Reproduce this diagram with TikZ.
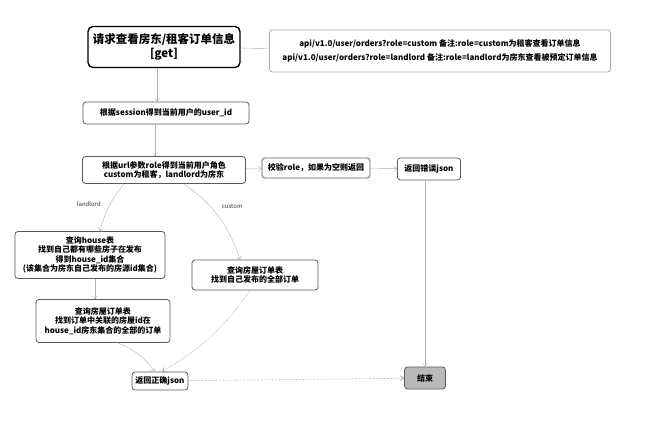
\documentclass[tikz,border=0pt]{standalone}
\usepackage{fontspec}
\setmainfont{Noto Sans CJK SC}
\usetikzlibrary{arrows.meta, positioning}

\begin{document}
\begin{tikzpicture}[
      x=1pt, y=-1pt,
      block/.style={rectangle, draw=gray!70!black, line width=0.8pt, rounded corners=3pt, align=center, inner sep=2pt, font=\bfseries\fontsize{8}{9.5}\selectfont},
      start_block/.style={block, draw=black, line width=1.4pt, rounded corners=5pt, font=\bfseries\fontsize{11.5}{14}\selectfont},
      note_block/.style={block, draw=gray!70, font=\bfseries\fontsize{8}{9}\selectfont},
      end_block/.style={block, fill=gray!55},
      line/.style={draw, gray!60, -{Straight Barb[length=3pt,width=5pt]}, thin},
      dotline/.style={line, gray!70, densely dotted, line width=0.8pt},
      lbl/.style={font=\fontsize{6}{7}\selectfont, text=black!80}
  ]
  \useasboundingbox (0,0) rectangle (649,423);

  \node [start_block, minimum width=152pt, minimum height=41pt] (start) at (164,47) {请求查看房东/租客订单信息\\{[get]}};
  \node [note_block, minimum width=341pt, minimum height=42pt] (api) at (440,51) {api/v1.0/user/orders?role=custom 备注:role=custom为租客查看订单信息\\[5pt]api/v1.0/user/orders?role=landlord 备注:role=landlord为房东查看被预定订单信息};
  \node [block, minimum width=166pt, minimum height=22pt] (session) at (166,113) {根据session得到当前用户的user\_id};
  \node [block, minimum width=163pt, minimum height=27pt] (role) at (164,170) {根据url参数role得到当前用户角色\\custom为租客，landlord为房东};
  \node [block, minimum width=108pt, minimum height=20pt] (check) at (316,168) {校验role，如果为空则返回};
  \node [block, minimum width=63pt, minimum height=22pt] (error) at (429,169) {返回错误json};
  \node [block, minimum width=150pt, minimum height=47pt] (house) at (90,255) {查询house表\\找到自己都有哪些房子在发布\\得到house\_id集合\\(该集合为房东自己发布的房源id集合)};
  \node [block, minimum width=126pt, minimum height=30pt] (corders) at (255,275) {查询房屋订单表\\找到自己发布的全部订单};
  \node [block, minimum width=134pt, minimum height=43pt] (lorders) at (103,321) {查询房屋订单表\\找到订单中关联的房屋id在\\house\_id房东集合的全部的订单};
  \node [block, minimum width=56pt, minimum height=18pt] (ok) at (160,381) {返回正确json};
  \node [end_block, minimum width=41pt, minimum height=22pt] (end) at (425,378) {结束};

  \draw [gray!60, thin] (start) -- (api);
  \path [line] ([xshift=-7pt]start.south) -- ([xshift=-9pt]session.north);
  \path [line] ([xshift=-11pt]session.south) -- ([xshift=-9pt]role.north);
  \path [line] (role) -- (check);
  \path [line] (check) -- (error);
  \path [line] (error.south -| end.north) -- (end.north);
  \path [line] ([xshift=-40pt]role.south) to[bend right=12] node[lbl, pos=0.45, left=6pt] {landlord} ([xshift=10pt]house.north);
  \path [line] ([xshift=20pt]role.south) to[bend left=18] node[lbl, pos=0.35, right=8pt] {custom} ([xshift=-15pt]corders.north);
  \path [line] ([xshift=5pt]house.south) -- ([xshift=-8pt]lorders.north);
  \path [line] ([xshift=15pt]lorders.south) to[bend left=15] ([xshift=-5pt]ok.north);
  \path [dotline] ([xshift=-5pt]corders.south) to[bend left=12] ([xshift=2pt]ok.north);
  \path [dotline] (ok) -- (end);
\end{tikzpicture}
\end{document}
